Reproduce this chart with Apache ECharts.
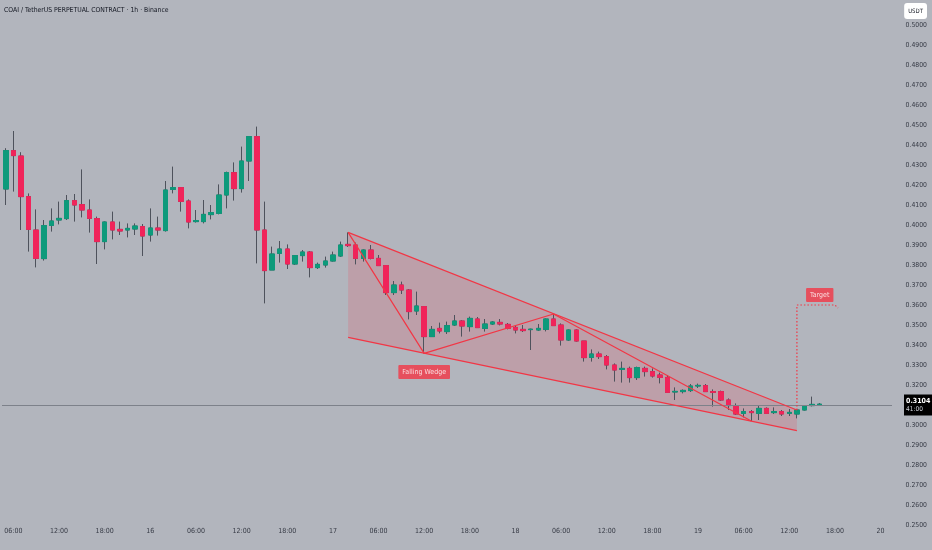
<!DOCTYPE html>
<html>
<head>
<meta charset="utf-8">
<script src="https://cdn.jsdelivr.net/npm/echarts@6/dist/echarts.min.js"></script>
<style>
html,body{margin:0;padding:0;background:#b2b5bd;}
#chart{width:932px;height:550px;}
</style>
</head>
<body>
<div id="chart"></div>
<script>
// ---- Data (hourly candles, 15th 05:00 -> 19th 16:00) ----
const opens = [0.4180,0.4372,0.4345,0.4142,0.3975,0.3832,0.3998,0.4025,0.4032,0.4122,
0.4102,0.4075,0.4032,0.3917,0.4015,0.3978,0.3975,0.3980,0.3992,0.3950,
0.3985,0.3972,0.4178,0.4187,0.4120,0.4017,0.4017,0.4052,0.4058,0.4150,
0.4262,0.4182,0.4320,0.4442,0.3975,0.3775,0.3858,0.3880,0.3805,0.3847,
0.3865,0.3787,0.3800,0.3820,0.3845,0.3903,0.3900,0.3833,0.3875,0.3833,
0.3797,0.3662,0.3700,0.3675,0.3570,0.3592,0.3442,0.3483,0.3467,0.3500,
0.3520,0.3492,0.3530,0.3483,0.3505,0.3513,0.3503,0.3488,0.3478,0.3477,
0.3475,0.3478,0.3530,0.3500,0.3425,0.3475,0.3420,0.3338,0.3355,0.3342,
0.3300,0.3278,0.3283,0.3237,0.3283,0.3267,0.3250,0.3238,0.3165,0.3167,
0.3172,0.3195,0.3197,0.3167,0.3167,0.3125,0.3095,0.3058,0.3067,0.3058,
0.3083,0.3062,0.3067,0.3058,0.3055,0.3075,0.3097,0.3100];
const closes = [0.4372,0.4347,0.4142,0.3978,0.3833,0.3997,0.4020,0.4033,0.4122,0.4100,
0.4075,0.4033,0.3917,0.4015,0.3975,0.3970,0.3983,0.3995,0.3945,0.3985,
0.3975,0.4175,0.4187,0.4118,0.4015,0.4022,0.4053,0.4062,0.4150,0.4262,
0.4182,0.4320,0.4442,0.3975,0.3772,0.3855,0.3880,0.3805,0.3847,0.3865,
0.3787,0.3803,0.3820,0.3850,0.3900,0.3897,0.3833,0.3875,0.3833,0.3797,
0.3662,0.3700,0.3675,0.3567,0.3595,0.3442,0.3478,0.3470,0.3497,0.3520,
0.3495,0.3533,0.3487,0.3505,0.3515,0.3505,0.3483,0.3475,0.3472,0.3479,
0.3483,0.3530,0.3497,0.3425,0.3475,0.3420,0.3337,0.3355,0.3342,0.3300,
0.3275,0.3283,0.3237,0.3287,0.3267,0.3245,0.3238,0.3163,0.3168,0.3173,
0.3195,0.3198,0.3167,0.3163,0.3125,0.3097,0.3055,0.3067,0.3062,0.3083,
0.3058,0.3067,0.3055,0.3063,0.3075,0.3095,0.3103,0.3104];
const lows = [0.4100,0.4167,0.3975,0.3867,0.3788,0.3822,0.3967,0.4003,0.4025,0.4017,
0.4038,0.3962,0.3805,0.3878,0.3928,0.3950,0.3938,0.3950,0.3845,0.3917,
0.3947,0.3967,0.4158,0.4067,0.3983,0.4012,0.4008,0.4028,0.4053,0.4083,
0.4122,0.4162,0.4220,0.3808,0.3608,0.3775,0.3812,0.3780,0.3800,0.3817,
0.3738,0.3780,0.3787,0.3817,0.3840,0.3890,0.3803,0.3817,0.3828,0.3795,
0.3650,0.3650,0.3655,0.3528,0.3550,0.3358,0.3440,0.3458,0.3455,0.3495,
0.3442,0.3467,0.3485,0.3467,0.3500,0.3498,0.3478,0.3458,0.3465,0.3375,
0.3470,0.3468,0.3495,0.3397,0.3420,0.3417,0.3317,0.3317,0.3330,0.3278,
0.3217,0.3212,0.3212,0.3225,0.3242,0.3237,0.3208,0.3162,0.3125,0.3158,
0.3165,0.3185,0.3165,0.3092,0.3120,0.3075,0.3050,0.3038,0.3020,0.3025,
0.3055,0.3055,0.3045,0.3045,0.3033,0.3072,0.3093,0.3098];
const highs = [0.4384,0.4470,0.4364,0.4158,0.4078,0.4025,0.4083,0.4117,0.4150,0.4155,
0.4278,0.4128,0.4042,0.4018,0.4067,0.4017,0.4008,0.4008,0.4005,0.4083,
0.4042,0.4220,0.4292,0.4190,0.4128,0.4075,0.4125,0.4100,0.4203,0.4267,
0.4313,0.4392,0.4445,0.4492,0.4117,0.3892,0.3920,0.3903,0.3850,0.3875,
0.3870,0.3812,0.3842,0.3867,0.3917,0.3963,0.3912,0.3878,0.3900,0.3850,
0.3800,0.3720,0.3717,0.3680,0.3667,0.3595,0.3495,0.3512,0.3517,0.3550,
0.3525,0.3542,0.3540,0.3530,0.3520,0.3530,0.3510,0.3495,0.3500,0.3482,
0.3505,0.3533,0.3555,0.3508,0.3478,0.3478,0.3420,0.3378,0.3367,0.3350,
0.3308,0.3317,0.3292,0.3292,0.3292,0.3283,0.3262,0.3250,0.3188,0.3178,
0.3205,0.3207,0.3205,0.3178,0.3172,0.3133,0.3108,0.3083,0.3075,0.3100,
0.3088,0.3088,0.3075,0.3080,0.3080,0.3100,0.3142,0.3110];

// Drawing annotations in (candle index, price)
const wedgeUpper = [[45,0.3963],[104,0.3075]];
const wedgeLower = [[45,0.3438],[104,0.2972]];
const wedgeZigzag = [[45,0.3963],[55,0.3358],[72,0.3555],[98,0.3020]];
const wedgeArea = [[45,0.3963],[104,0.3075],[104,0.2972],[45,0.3438]];
const targetPath = [[104,0.3075],[104,0.3600],[109,0.3600],[109.4,0.3585]];
const wedgeLabel = [55,0.3265];
const targetLabel = [107,0.3650];
const lastPrice = 0.3104;
const countdown = '41:00';

// x categories: hourly from day 15 05:00 for 117 slots
const START_HOUR = 5, START_DAY = 15, SLOTS = 117;
const categories = [];
for (let i = 0; i < SLOTS; i++) {
  const t = START_HOUR + i;
  const d = START_DAY + Math.floor(t / 24);
  const h = t % 24;
  categories.push(h === 0 ? String(d) : (h < 10 ? '0' + h : h) + ':00');
}

const UP = '#0d9a7b', DOWN = '#f0245a', WICK = '#4e525c', DRAW = '#f23645';
const FONT = "'Liberation Sans Narrow','DejaVu Sans Condensed',sans-serif";

const wickData = opens.map((o, i) => [o, closes[i], lows[i], highs[i]]);
const bodyData = opens.map((o, i) => [o, closes[i], Math.min(o, closes[i]), Math.max(o, closes[i])]);

const chart = echarts.init(document.getElementById('chart'));
chart.setOption({
  animation: false,
  backgroundColor: '#b2b5bd',
  title: {
    text: 'COAI / TetherUS PERPETUAL CONTRACT · 1h · Binance',
    left: -1, top: 2,
    textStyle: { fontSize: 6.8, fontWeight: 'normal', color: '#131722', fontFamily: FONT }
  },
  graphic: [{
    type: 'text', right: 5, top: 3, z: 100,
    style: { text: 'USDT', fill: '#131722', font: "6px " + FONT, backgroundColor: '#ffffff',
      padding: [5, 4, 5, 4], borderRadius: 3 }
  }],
  grid: { left: 2, right: 40, top: 20, bottom: 25 },
  xAxis: [{
    type: 'category', data: categories, boundaryGap: true,
    axisLine: { show: false }, axisTick: { show: false }, splitLine: { show: false },
    axisLabel: {
      color: '#363a45', fontSize: 7, fontFamily: FONT, margin: 3,
      interval: function (idx) { return ((START_HOUR + idx) % 24) % 6 === 0; }
    }
  }, {
    type: 'value', min: -0.5, max: SLOTS - 0.5, show: false
  }],
  yAxis: {
    type: 'value', position: 'right', min: 0.25, max: 0.5025, interval: 0.01,
    axisLine: { show: false }, axisTick: { show: false }, splitLine: { show: false },
    axisLabel: {
      color: '#363a45', fontSize: 6.8, fontFamily: FONT, align: 'right', margin: 35,
      formatter: function (v) { return Math.abs(v - 0.31) < 1e-6 ? '' : v.toFixed(4); }
    }
  },
  series: [
    {
      type: 'custom', xAxisIndex: 1, z: 1, silent: true,
      data: [[0]],
      renderItem: function (params, api) {
        return {
          type: 'polygon',
          shape: { points: wedgeArea.map(p => api.coord(p)) },
          style: { fill: 'rgba(242,54,69,0.17)' }
        };
      }
    },
    {
      type: 'candlestick', z: 2, barWidth: 5, data: wickData,
      itemStyle: { color: WICK, color0: WICK, borderColor: WICK, borderColor0: WICK, borderWidth: 1 }
    },
    {
      type: 'candlestick', z: 3, barWidth: 5, data: bodyData,
      itemStyle: { color: UP, color0: DOWN, borderColor: UP, borderColor0: DOWN, borderWidth: 1 },
      markLine: {
        silent: true, symbol: ['none', 'none'], animation: false,
        lineStyle: { color: '#7d818a', width: 1, type: 'solid' },
        data: [{ yAxis: lastPrice }],
        label: {
          show: true, position: 'end', distance: 12,
          formatter: '{a|' + lastPrice.toFixed(4) + '}\n{b|' + countdown + '}',
          backgroundColor: '#000000', padding: [3, 2, 2, 2],
          rich: {
            a: { color: '#ffffff', fontSize: 7, fontWeight: 'bold', fontFamily: FONT, lineHeight: 8 },
            b: { color: '#d1d4dc', fontSize: 6.5, fontFamily: FONT, lineHeight: 8 }
          }
        }
      }
    },
    {
      type: 'line', xAxisIndex: 1, z: 5, data: wedgeUpper, symbol: 'none', silent: true,
      lineStyle: { color: DRAW, width: 1.2 }
    },
    {
      type: 'line', xAxisIndex: 1, z: 5, data: wedgeLower, symbol: 'none', silent: true,
      lineStyle: { color: DRAW, width: 1.2 }
    },
    {
      type: 'line', xAxisIndex: 1, z: 5, data: wedgeZigzag, symbol: 'none', silent: true,
      lineStyle: { color: DRAW, width: 1.2 }
    },
    {
      type: 'line', xAxisIndex: 1, z: 5, data: targetPath, symbol: 'none', silent: true,
      lineStyle: { color: DRAW, width: 1.2, type: [1.5, 2] }
    },
    {
      type: 'scatter', xAxisIndex: 1, z: 6, symbolSize: 1, silent: true,
      itemStyle: { color: 'rgba(0,0,0,0)' },
      data: [
        { value: wedgeLabel, name: 'Falling Wedge' },
        { value: targetLabel, name: 'Target' }
      ],
      label: {
        show: true, position: 'inside', formatter: '{b}',
        color: '#ffffff', fontSize: 7, fontFamily: FONT,
        backgroundColor: DRAW, padding: [4, 4, 3, 4], borderRadius: 1
      }
    }
  ]
});
</script>
</body>
</html>
